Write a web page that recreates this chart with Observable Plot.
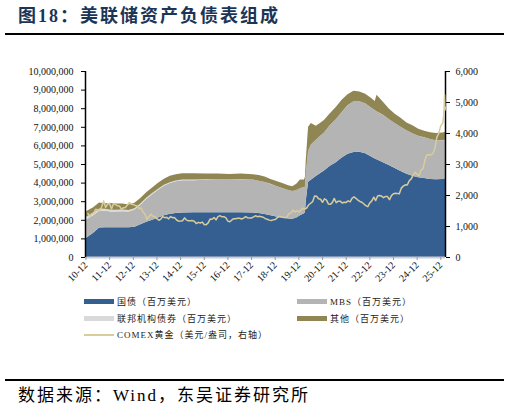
<!DOCTYPE html>
<html>
<head>
<meta charset="utf-8">
<script src="https://cdn.jsdelivr.net/npm/d3@7"></script>
<script src="https://cdn.jsdelivr.net/npm/@observablehq/plot@0.6"></script>
<style>
  html, body { margin: 0; padding: 0; background: #fff; }
  #page { position: relative; width: 510px; height: 413px; overflow: hidden; background: #fff;
          font-family: "Liberation Serif", "Noto Sans CJK SC", serif; }
  #title { position: absolute; left: 18px; top: 4px; font-size: 18px; font-weight: bold; color: #1B3556;
           letter-spacing: 2px; white-space: nowrap; line-height: 24px; }
  .hr { position: absolute; left: 5px; width: 499px; height: 2px; background: #000; }
  #chart { position: absolute; left: 0; top: 40px; }
  .item { position: absolute; font-size: 9px; letter-spacing: 1px; line-height: 14px; color: #222; white-space: nowrap; }
  .sw { display: inline-block; width: 30px; height: 5px; vertical-align: middle; margin-right: 3px; position: relative; top: -1px; }
  .ln { display: inline-block; width: 30px; height: 1.5px; vertical-align: middle; margin-right: 3px; position: relative; top: -1px; }
  #source { position: absolute; left: 18px; top: 385px; font-size: 17px; letter-spacing: 2px; color: #000; white-space: nowrap; line-height: 22px; }
</style>
</head>
<body>
<div id="page">
  <div id="title">图18：美联储资产负债表组成</div>
  <div class="hr" style="top:33px"></div>
  <div id="chart"></div>
  <div id="legend"></div>
  <div class="hr" style="top:379px"></div>
  <div id="source">数据来源：Wind，东吴证券研究所</div>
</div>
<script>
// Fed balance sheet composition, 百万美元 (weekly/quarterly snapshots)
const bsDates = [
  "2010-11-24","2011-03-30","2011-06-29","2011-09-28","2011-12-28","2012-03-28","2012-06-27","2012-09-26",
  "2012-12-26","2013-03-27","2013-06-26","2013-09-25","2013-12-25","2014-03-26","2014-06-25","2014-09-24",
  "2014-12-31","2015-06-24","2015-12-30","2016-06-29","2016-12-28","2017-06-28","2017-12-27","2018-03-28",
  "2018-06-27","2018-09-26","2018-12-26","2019-03-27","2019-06-26","2019-08-28","2019-10-30","2019-12-25",
  "2020-02-26","2020-03-11","2020-03-25","2020-04-29","2020-06-10","2020-08-26","2020-10-28","2020-12-30",
  "2021-03-31","2021-06-30","2021-09-29","2021-12-29","2022-03-30","2022-06-29","2022-09-28","2022-12-28",
  "2023-02-22","2023-03-22","2023-06-28","2023-09-27","2023-12-27","2024-03-27","2024-06-26","2024-09-25",
  "2024-12-25","2025-03-26","2025-06-25","2025-09-24","2025-12-31","2026-02-11"
];
const treasuries = [
  1000000,1300000,1580000,1600000,1600000,1600000,1600000,1600000,
  1620000,1760000,1900000,2000000,2120000,2250000,2330000,2370000,
  2390000,2400000,2400000,2400000,2400000,2400000,2390000,2360000,
  2310000,2250000,2180000,2120000,2070000,2050000,2130000,2250000,
  2350000,2400000,3050000,4050000,4150000,4350000,4500000,4650000,
  4900000,5100000,5350000,5550000,5650000,5660000,5580000,5400000,
  5300000,5250000,5100000,4950000,4780000,4620000,4470000,4370000,
  4290000,4250000,4200000,4180000,4200000,4240000
];
const mbs = [
  990000,940000,910000,880000,840000,850000,860000,843000,
  930000,1050000,1220000,1380000,1490000,1580000,1650000,1700000,
  1740000,1730000,1750000,1740000,1750000,1770000,1770000,1740000,
  1720000,1680000,1640000,1590000,1530000,1500000,1470000,1440000,
  1410000,1370000,1450000,1650000,1900000,1950000,2000000,2040000,
  2200000,2300000,2450000,2600000,2720000,2710000,2690000,2640000,
  2600000,2590000,2540000,2470000,2420000,2380000,2340000,2280000,
  2230000,2180000,2140000,2100000,2070000,2060000
];
const agencyDebt = [
  147000,132000,115000,108000,104000,96000,90000,84000,
  77000,72000,66000,60000,57000,49000,44000,41000,
  39000,36000,33000,25000,17000,8000,4400,2400,
  2400,2400,2400,2300,2300,2300,2300,2300,
  2300,2300,2300,2300,2300,2300,2300,2300,
  2300,2300,2300,2300,2300,2300,2300,2300,
  2300,2300,2300,2300,2300,2300,2300,2300,
  2300,2300,2300,2300,2300,2300
];
const other = [
  300000,300000,320000,300000,360000,330000,320000,300000,
  290000,290000,290000,300000,330000,330000,340000,340000,
  340000,330000,310000,320000,300000,310000,290000,300000,
  290000,260000,260000,260000,260000,250000,330000,480000,
  400000,540000,750000,1300000,1150000,760000,700000,680000,
  620000,660000,650000,600000,560000,520000,510000,500000,
  480000,880000,700000,560000,500000,480000,420000,430000,
  370000,350000,360000,380000,420000,420000
];

// COMEX gold, 美元/盎司, month-end closes from Dec 2010
const goldStart = "2010-12";
const goldMonthly = [
  1421,
  1333,1411,1439,1556,1536,1500,1628,1826,1620,1725,1746,1566,
  1740,1711,1669,1664,1561,1604,1610,1692,1776,1719,1713,1675,
  1664,1579,1596,1472,1392,1234,1313,1395,1327,1323,1251,1202,
  1240,1321,1284,1296,1246,1322,1282,1287,1210,1171,1175,1184,
  1279,1213,1183,1183,1190,1172,1095,1133,1115,1142,1065,1060,
  1116,1238,1235,1292,1215,1320,1350,1311,1316,1275,1173,1152,
  1211,1253,1249,1268,1268,1242,1269,1316,1283,1271,1275,1309,
  1345,1318,1327,1316,1298,1253,1233,1206,1192,1215,1222,1282,
  1321,1316,1298,1285,1305,1413,1437,1529,1472,1514,1465,1520,
  1587,1566,1596,1695,1751,1800,1986,1978,1895,1879,1780,1895,
  1850,1729,1715,1768,1905,1771,1817,1818,1757,1784,1776,1829,
  1796,1909,1954,1911,1848,1807,1782,1726,1672,1640,1759,1826,
  1945,1836,1986,1999,1982,1929,1970,1966,1866,1996,2057,2072,
  2067,2054,2238,2302,2346,2339,2473,2536,2659,2749,2681,2641,
  2835,2858,3150,3305,3315,3307,3348,3516,3873,4014,4254,4340
];
// Daily closes in the final weeks
const goldTailDates = ["2026-01-09","2026-01-16","2026-01-23","2026-01-28","2026-02-03","2026-02-11"];
const goldTailPrices = [4500,4600,4980,5250,4750,4850];

const seriesNames = ["国债","MBS","联邦机构债券","其他"];
const seriesColors = ["#365F91","#B4B4B4","#D9D9D9","#8F8653"];
const goldColor = "#D8CC9A";
const xTickLabels = ["10-12","11-12","12-12","13-12","14-12","15-12","16-12","17-12",
                     "18-12","19-12","20-12","21-12","22-12","23-12","24-12","25-12"];
const leftTicks = [0,1000000,2000000,3000000,4000000,5000000,6000000,7000000,8000000,9000000,10000000];
const rightTicks = [0,1000,2000,3000,4000,5000,6000];

const parseDay = d3.utcParse("%Y-%m-%d");
const parseMonth = d3.utcParse("%Y-%m");
const parseTick = d3.utcParse("%y-%m");

const seriesValues = [treasuries, mbs, agencyDebt, other];
const stackRows = [];
bsDates.forEach((ds, i) => {
  const date = parseDay(ds);
  seriesNames.forEach((s, j) => stackRows.push({date, series: s, value: seriesValues[j][i]}));
});

const start = parseMonth(goldStart);
const goldRows = goldMonthly.map((p, i) => ({
  date: d3.utcDay.offset(d3.utcMonth.offset(start, i + 1), -1),
  price: p
}));
goldTailDates.forEach((ds, i) => goldRows.push({date: parseDay(ds), price: goldTailPrices[i]}));

const xStart = parseDay(bsDates[0]);
const xEnd = parseDay(bsDates[bsDates.length - 1]);
const tickDates = xTickLabels.map(parseTick);
const yRight = d3.scaleLinear([0, 6000], [0, 10000000]);
const fmt = d3.format(",");

const chart = Plot.plot({
  width: 510,
  height: 260,
  marginTop: 31,
  marginBottom: 43,
  marginLeft: 85,
  marginRight: 65,
  style: {fontFamily: "'Liberation Serif', 'Noto Sans CJK SC', serif", fontSize: "10px", color: "#111", background: "#fff"},
  x: {type: "utc", domain: [xStart, xEnd]},
  y: {domain: [0, 10000000]},
  color: {domain: seriesNames, range: seriesColors},
  marks: [
    Plot.areaY(stackRows, {x: "date", y: "value", fill: "series", order: seriesNames}),
    Plot.ruleY([0], {stroke: "#C9CDD8", strokeWidth: 2}),
    Plot.axisX(tickDates, {tickSize: 3, stroke: "#999", tickRotate: -45, tickPadding: 3,
      tickFormat: (d, i) => xTickLabels[i], fill: "#111", label: null}),
    Plot.axisY(leftTicks, {tickSize: 4, tickPadding: 8, tickFormat: fmt, label: null, stroke: "#000", fill: "#111"}),
    Plot.axisY(rightTicks, {anchor: "right", y: yRight, tickSize: 4, tickPadding: 6, tickFormat: fmt, label: null, stroke: "#000", fill: "#111"}),
    Plot.ruleX([xStart], {stroke: "#000", strokeWidth: 1.5}),
    Plot.ruleX([xEnd], {stroke: "#000", strokeWidth: 1.5}),
    Plot.line(goldRows, {x: "date", y: d => yRight(d.price), stroke: goldColor, strokeWidth: 1.5})
  ]
});
document.getElementById("chart").appendChild(chart);

// Legend below the plot
const legendItems = [
  {label: "国债（百万美元）", color: seriesColors[0], kind: "sw", left: 84, top: 295},
  {label: "MBS（百万美元）", color: seriesColors[1], kind: "sw", left: 297, top: 295},
  {label: "联邦机构债券（百万美元）", color: seriesColors[2], kind: "sw", left: 84, top: 312},
  {label: "其他（百万美元）", color: seriesColors[3], kind: "sw", left: 297, top: 312},
  {label: "COMEX黄金（美元/盎司，右轴）", color: goldColor, kind: "ln", left: 84, top: 328}
];
const legend = document.getElementById("legend");
legendItems.forEach(it => {
  const div = document.createElement("div");
  div.className = "item";
  div.style.left = it.left + "px";
  div.style.top = it.top + "px";
  const sw = document.createElement("span");
  sw.className = it.kind;
  sw.style.background = it.color;
  div.appendChild(sw);
  div.appendChild(document.createTextNode(it.label));
  legend.appendChild(div);
});
</script>
</body>
</html>
